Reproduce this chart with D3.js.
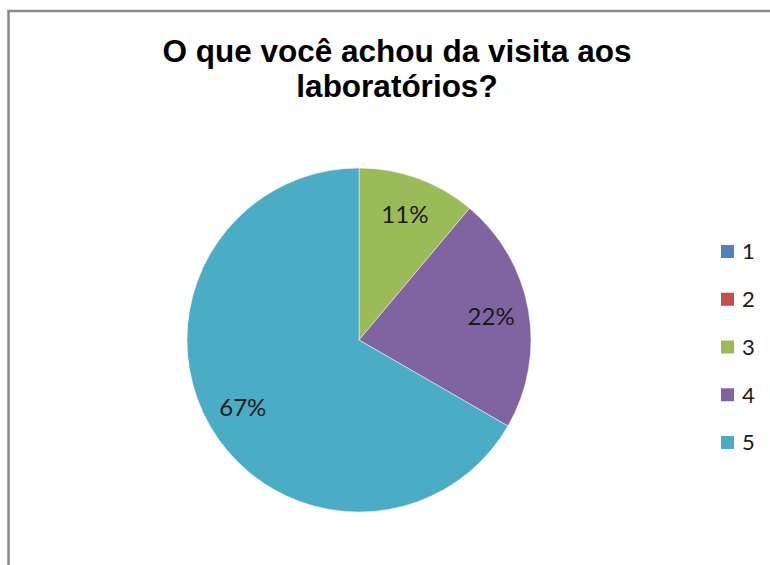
<!DOCTYPE html>
<html>
<head>
<meta charset="utf-8">
<script src="https://cdn.jsdelivr.net/npm/d3@7"></script>
<style>
  html, body { margin: 0; padding: 0; background: #fff; }
  svg { display: block; }
</style>
</head>
<body>
<svg id="chart" width="770" height="565"></svg>
<script>
// Answers to the survey question (rating 1-5) and their response counts
const categories = ["1", "2", "3", "4", "5"];
const counts = [0, 0, 1, 2, 6];
const colors = ["#4F81BD", "#C0504D", "#9BBB59", "#8064A2", "#4BACC6"];
const titleLines = ["O que você achou da visita aos", "laboratórios?"];

const svg = d3.select("#chart");
const W = 770, H = 565;

// Chart frame (runs off the right and bottom of the view)
svg.append("rect")
  .attr("x", 8.5).attr("y", 11)
  .attr("width", W + 20).attr("height", H + 20)
  .attr("fill", "#fff")
  .attr("stroke", "#8a8a8a")
  .attr("stroke-width", 2.5);

// Title
const title = svg.append("text")
  .attr("text-anchor", "middle")
  .attr("font-family", "'Liberation Sans', Arial, sans-serif")
  .attr("font-weight", "bold")
  .attr("font-size", 31.5)
  .attr("fill", "#000");
titleLines.forEach((line, i) => {
  title.append("tspan")
    .attr("x", 397)
    .attr("y", 62 + i * 35)
    .text(line);
});

// Pie
const cx = 359, cy = 340, r = 172;
const total = d3.sum(counts);
const data = categories.map((c, i) => ({ cat: c, value: counts[i], color: colors[i] }));

const pie = d3.pie().value(d => d.value).sort(null);
const arc = d3.arc().innerRadius(0).outerRadius(r);
const labelArc = d3.arc().innerRadius(r * 0.78).outerRadius(r * 0.78);

const g = svg.append("g").attr("transform", `translate(${cx},${cy})`);
const arcs = pie(data);

g.selectAll("path.slice")
  .data(arcs.filter(a => a.data.value > 0))
  .join("path")
  .attr("class", "slice")
  .attr("d", arc)
  .attr("fill", d => d.data.color)
  .attr("stroke", "#ffffff")
  .attr("stroke-opacity", 0.6)
  .attr("stroke-width", 0.8);

const pctFmt = v => Math.round(v / total * 100) + "%";

g.selectAll("text.pct")
  .data(arcs.filter(a => a.data.value > 0))
  .join("text")
  .attr("class", "pct")
  .attr("transform", d => `translate(${labelArc.centroid(d)})`)
  .attr("text-anchor", "middle")
  .attr("dy", "0.36em")
  .attr("font-family", "Lato, 'Open Sans', sans-serif")
  .attr("font-size", 24)
  .attr("fill", "#1a1a1a")
  .text(d => pctFmt(d.data.value));

// Legend
const legendY = d3.scalePoint().domain(categories).range([251.5, 442.5]);
const legend = svg.append("g");
const items = legend.selectAll("g.item")
  .data(data)
  .join("g")
  .attr("class", "item")
  .attr("transform", d => `translate(721, ${legendY(d.cat)})`);

items.append("rect")
  .attr("x", 0).attr("y", -6.5)
  .attr("width", 13).attr("height", 13)
  .attr("fill", d => d.color);

items.append("text")
  .attr("x", 21)
  .attr("dy", "0.36em")
  .attr("font-family", "Lato, 'Open Sans', sans-serif")
  .attr("font-size", 22)
  .attr("fill", "#1a1a1a")
  .text(d => d.cat);
</script>
</body>
</html>
